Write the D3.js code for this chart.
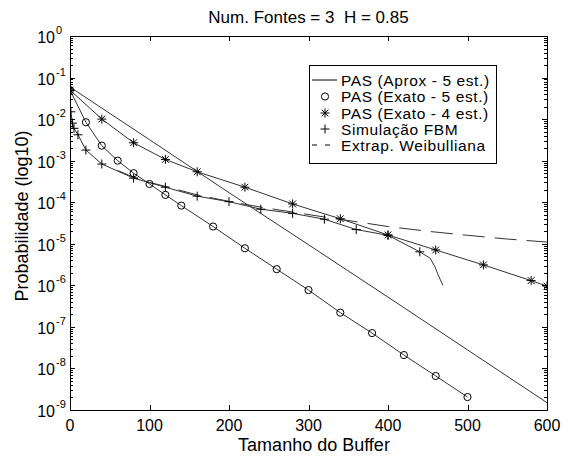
<!DOCTYPE html>
<html>
<head>
<meta charset="utf-8">
<title>Num. Fontes = 3</title>
<script src="https://d3js.org/d3.v7.min.js"></script>
<style>
  body { margin: 0; background: #fff; }
  text { font-family: "Liberation Sans", Arial, sans-serif; fill: #000; }
</style>
</head>
<body>
<div id="chart"></div>
<script>
// data
var aproxX = [0, 100, 200, 300, 400, 500, 600];
var aproxP = [5.9e-2, 3.2e-3, 1.7e-4, 9.5e-6, 5.2e-7, 2.8e-8, 1.5e-9];

var exato5X = [0, 20, 40, 60, 80, 100, 120, 140, 180, 220, 260, 300, 340, 380, 420, 460, 500];
var exato5P = [5e-2, 8.4e-3, 2.3e-3, 1.0e-3, 5.0e-4, 2.75e-4, 1.5e-4, 8.3e-5, 2.6e-5, 7.8e-6,
               2.45e-6, 7.7e-7, 2.2e-7, 7.1e-8, 2.1e-8, 6.6e-9, 2.05e-9];

var exato4X = [0, 40, 80, 120, 160, 220, 280, 340, 400, 460, 520, 580, 600];
var exato4P = [5e-2, 1.0e-2, 2.7e-3, 1.07e-3, 5.4e-4, 2.3e-4, 9.1e-5, 4.0e-5, 1.63e-5, 7.1e-6,
               3.1e-6, 1.3e-6, 9.6e-7];

var fbmX = [0, 1, 3, 5, 10, 20, 40, 80, 120, 160, 200, 240, 280, 320, 360, 400, 440];
var fbmP = [5e-2, 1.5e-2, 8e-3, 6e-3, 4.2e-3, 1.8e-3, 8.3e-4, 3.8e-4, 2.3e-4, 1.4e-4, 1.03e-4,
            6.8e-5, 5.4e-5, 3.9e-5, 2.2e-5, 1.6e-5, 6.4e-6];
// tail of the simulation curve, no markers
var fbmTailX = [440, 453, 459, 463, 469];
var fbmTailP = [6.4e-6, 4.5e-6, 2.8e-6, 1.8e-6, 1.0e-6];

var weibX = [60, 80, 100, 120, 160, 200, 240, 280, 320, 360, 400, 450, 500, 550, 600];
var weibP = [5.8e-4, 4.0e-4, 3.0e-4, 2.4e-4, 1.5e-4, 1.05e-4, 7.6e-5, 5.8e-5, 4.4e-5, 3.4e-5,
             2.6e-5, 2.0e-5, 1.6e-5, 1.3e-5, 1.1e-5];

var xTicks = [0, 100, 200, 300, 400, 500, 600];
var yExps = [0, -1, -2, -3, -4, -5, -6, -7, -8, -9];

var legendLabels = ["PAS (Aprox - 5 est.)", "PAS (Exato - 5 est.)", "PAS (Exato - 4 est.)",
                    "Simulação FBM", "Extrap. Weibulliana"];

(function() {
var width = 571, height = 457;
var pl = 70, pr = 547, pt = 36, pb = 410;

var svg = d3.select("#chart").append("svg")
    .attr("width", width)
    .attr("height", height);

var x = d3.scaleLinear().domain([0, 600]).range([pl, pr]);
var y = d3.scaleLog().domain([1e-9, 1]).range([pb, pt]);

function zip(xs, ps) {
    return xs.map(function(v, i) { return [v, ps[i]]; });
}

svg.append("clipPath").attr("id", "clip")
  .append("rect")
    .attr("x", pl).attr("y", pt)
    .attr("width", pr - pl).attr("height", pb - pt);

var line = d3.line()
    .x(function(d) { return x(d[0]); })
    .y(function(d) { return y(d[1]); });

var plot = svg.append("g").attr("clip-path", "url(#clip)");

var lineColor = "#333";

// lines
[[aproxX, aproxP], [exato5X, exato5P], [exato4X, exato4P],
 [fbmX, fbmP], [fbmTailX, fbmTailP]].forEach(function(s) {
    plot.append("path")
        .datum(zip(s[0], s[1]))
        .attr("d", line)
        .attr("fill", "none")
        .attr("stroke", lineColor)
        .attr("stroke-width", 1);
});

plot.append("path")
    .datum(zip(weibX, weibP))
    .attr("d", line)
    .attr("fill", "none")
    .attr("stroke", lineColor)
    .attr("stroke-width", 1)
    .attr("stroke-dasharray", "22,10");

// marker shapes
function drawCircle(g, cx, cy) {
    g.append("circle").attr("cx", cx).attr("cy", cy).attr("r", 3.6)
        .attr("fill", "none").attr("stroke", "#000").attr("stroke-width", 1);
}
function drawPlus(g, cx, cy) {
    var r = 4.5;
    g.append("path")
        .attr("d", "M" + (cx - r) + "," + cy + "H" + (cx + r) + "M" + cx + "," + (cy - r) + "V" + (cy + r))
        .attr("stroke", "#000").attr("stroke-width", 1).attr("fill", "none");
}
function drawStar(g, cx, cy) {
    var r = 4.5, d = r * 0.75;
    g.append("path")
        .attr("d", "M" + (cx - r) + "," + cy + "H" + (cx + r) + "M" + cx + "," + (cy - r) + "V" + (cy + r) +
              "M" + (cx - d) + "," + (cy - d) + "L" + (cx + d) + "," + (cy + d) +
              "M" + (cx - d) + "," + (cy + d) + "L" + (cx + d) + "," + (cy - d))
        .attr("stroke", "#000").attr("stroke-width", 1).attr("fill", "none");
}

zip(exato5X, exato5P).forEach(function(d) { drawCircle(plot, x(d[0]), y(d[1])); });
zip(exato4X, exato4P).forEach(function(d) { drawStar(plot, x(d[0]), y(d[1])); });
zip(fbmX, fbmP).forEach(function(d) { drawPlus(plot, x(d[0]), y(d[1])); });

// axes box
svg.append("rect")
    .attr("x", pl + 0.5).attr("y", pt + 0.5)
    .attr("width", pr - pl).attr("height", pb - pt)
    .attr("fill", "none").attr("stroke", "#000").attr("stroke-width", 1);

var ticks = svg.append("g").attr("stroke", "#000").attr("stroke-width", 1);

// x ticks, inward, bottom and top
xTicks.forEach(function(t) {
    var px = Math.round(x(t)) + 0.5;
    ticks.append("line").attr("x1", px).attr("x2", px).attr("y1", pb).attr("y2", pb - 5);
    ticks.append("line").attr("x1", px).attr("x2", px).attr("y1", pt).attr("y2", pt + 5);
    svg.append("text")
        .attr("x", x(t)).attr("y", 431)
        .attr("text-anchor", "middle")
        .style("font-size", "16px")
        .text(t);
});

// y ticks, major and minor
yExps.forEach(function(e) {
    var py = Math.round(y(Math.pow(10, e))) + 0.5;
    ticks.append("line").attr("x1", pl).attr("x2", pl + 5).attr("y1", py).attr("y2", py);
    ticks.append("line").attr("x1", pr).attr("x2", pr - 5).attr("y1", py).attr("y2", py);
    if (e > -9) {
        for (var k = 2; k <= 9; k++) {
            var my = Math.round(y(k * Math.pow(10, e - 1))) + 0.5;
            ticks.append("line").attr("x1", pl).attr("x2", pl + 3).attr("y1", my).attr("y2", my);
            ticks.append("line").attr("x1", pr).attr("x2", pr - 3).attr("y1", my).attr("y2", my);
        }
    }
    svg.append("text")
        .attr("x", 55).attr("y", y(Math.pow(10, e)) + 7)
        .attr("text-anchor", "end")
        .style("font-size", "16px")
        .text("10");
    svg.append("text")
        .attr("x", 56).attr("y", y(Math.pow(10, e)) - 2)
        .attr("text-anchor", "start")
        .style("font-size", "11px")
        .text(e === 0 ? "0" : "-" + Math.abs(e));
});

// title and axis labels
svg.append("text")
    .attr("x", (pl + pr) / 2).attr("y", 23)
    .attr("text-anchor", "middle")
    .style("font-size", "17px")
    .style("white-space", "pre")
    .text("Num. Fontes = 3  H = 0.85");

svg.append("text")
    .attr("x", 314).attr("y", 451)
    .attr("text-anchor", "middle")
    .style("font-size", "18px")
    .text("Tamanho do Buffer");

svg.append("text")
    .attr("transform", "translate(28,216) rotate(-90)")
    .attr("text-anchor", "middle")
    .style("font-size", "18px")
    .text("Probabilidade (log10)");

// legend
var lg = svg.append("g");
lg.append("rect")
    .attr("x", 309.5).attr("y", 65.5)
    .attr("width", 187).attr("height", 98)
    .attr("fill", "#fff").attr("stroke", "#000").attr("stroke-width", 1);

var rowY = [80, 96.5, 113, 129, 145];
legendLabels.forEach(function(name, i) {
    var ry = rowY[i];
    if (i === 0) {
        lg.append("line").attr("x1", 312).attr("x2", 337).attr("y1", ry).attr("y2", ry)
            .attr("stroke", "#000").attr("stroke-width", 1);
    } else if (i === 1) {
        drawCircle(lg, 325, ry);
    } else if (i === 2) {
        drawStar(lg, 325, ry);
    } else if (i === 3) {
        drawPlus(lg, 325, ry);
    } else {
        lg.append("line").attr("x1", 312).attr("x2", 331).attr("y1", ry).attr("y2", ry)
            .attr("stroke", "#000").attr("stroke-width", 1).attr("stroke-dasharray", "5,8");
    }
    lg.append("text")
        .attr("x", 341).attr("y", ry + 5.5)
        .style("font-size", "15.5px")
        .style("letter-spacing", "0.6px")
        .text(name);
});
})();
</script>
</body>
</html>
